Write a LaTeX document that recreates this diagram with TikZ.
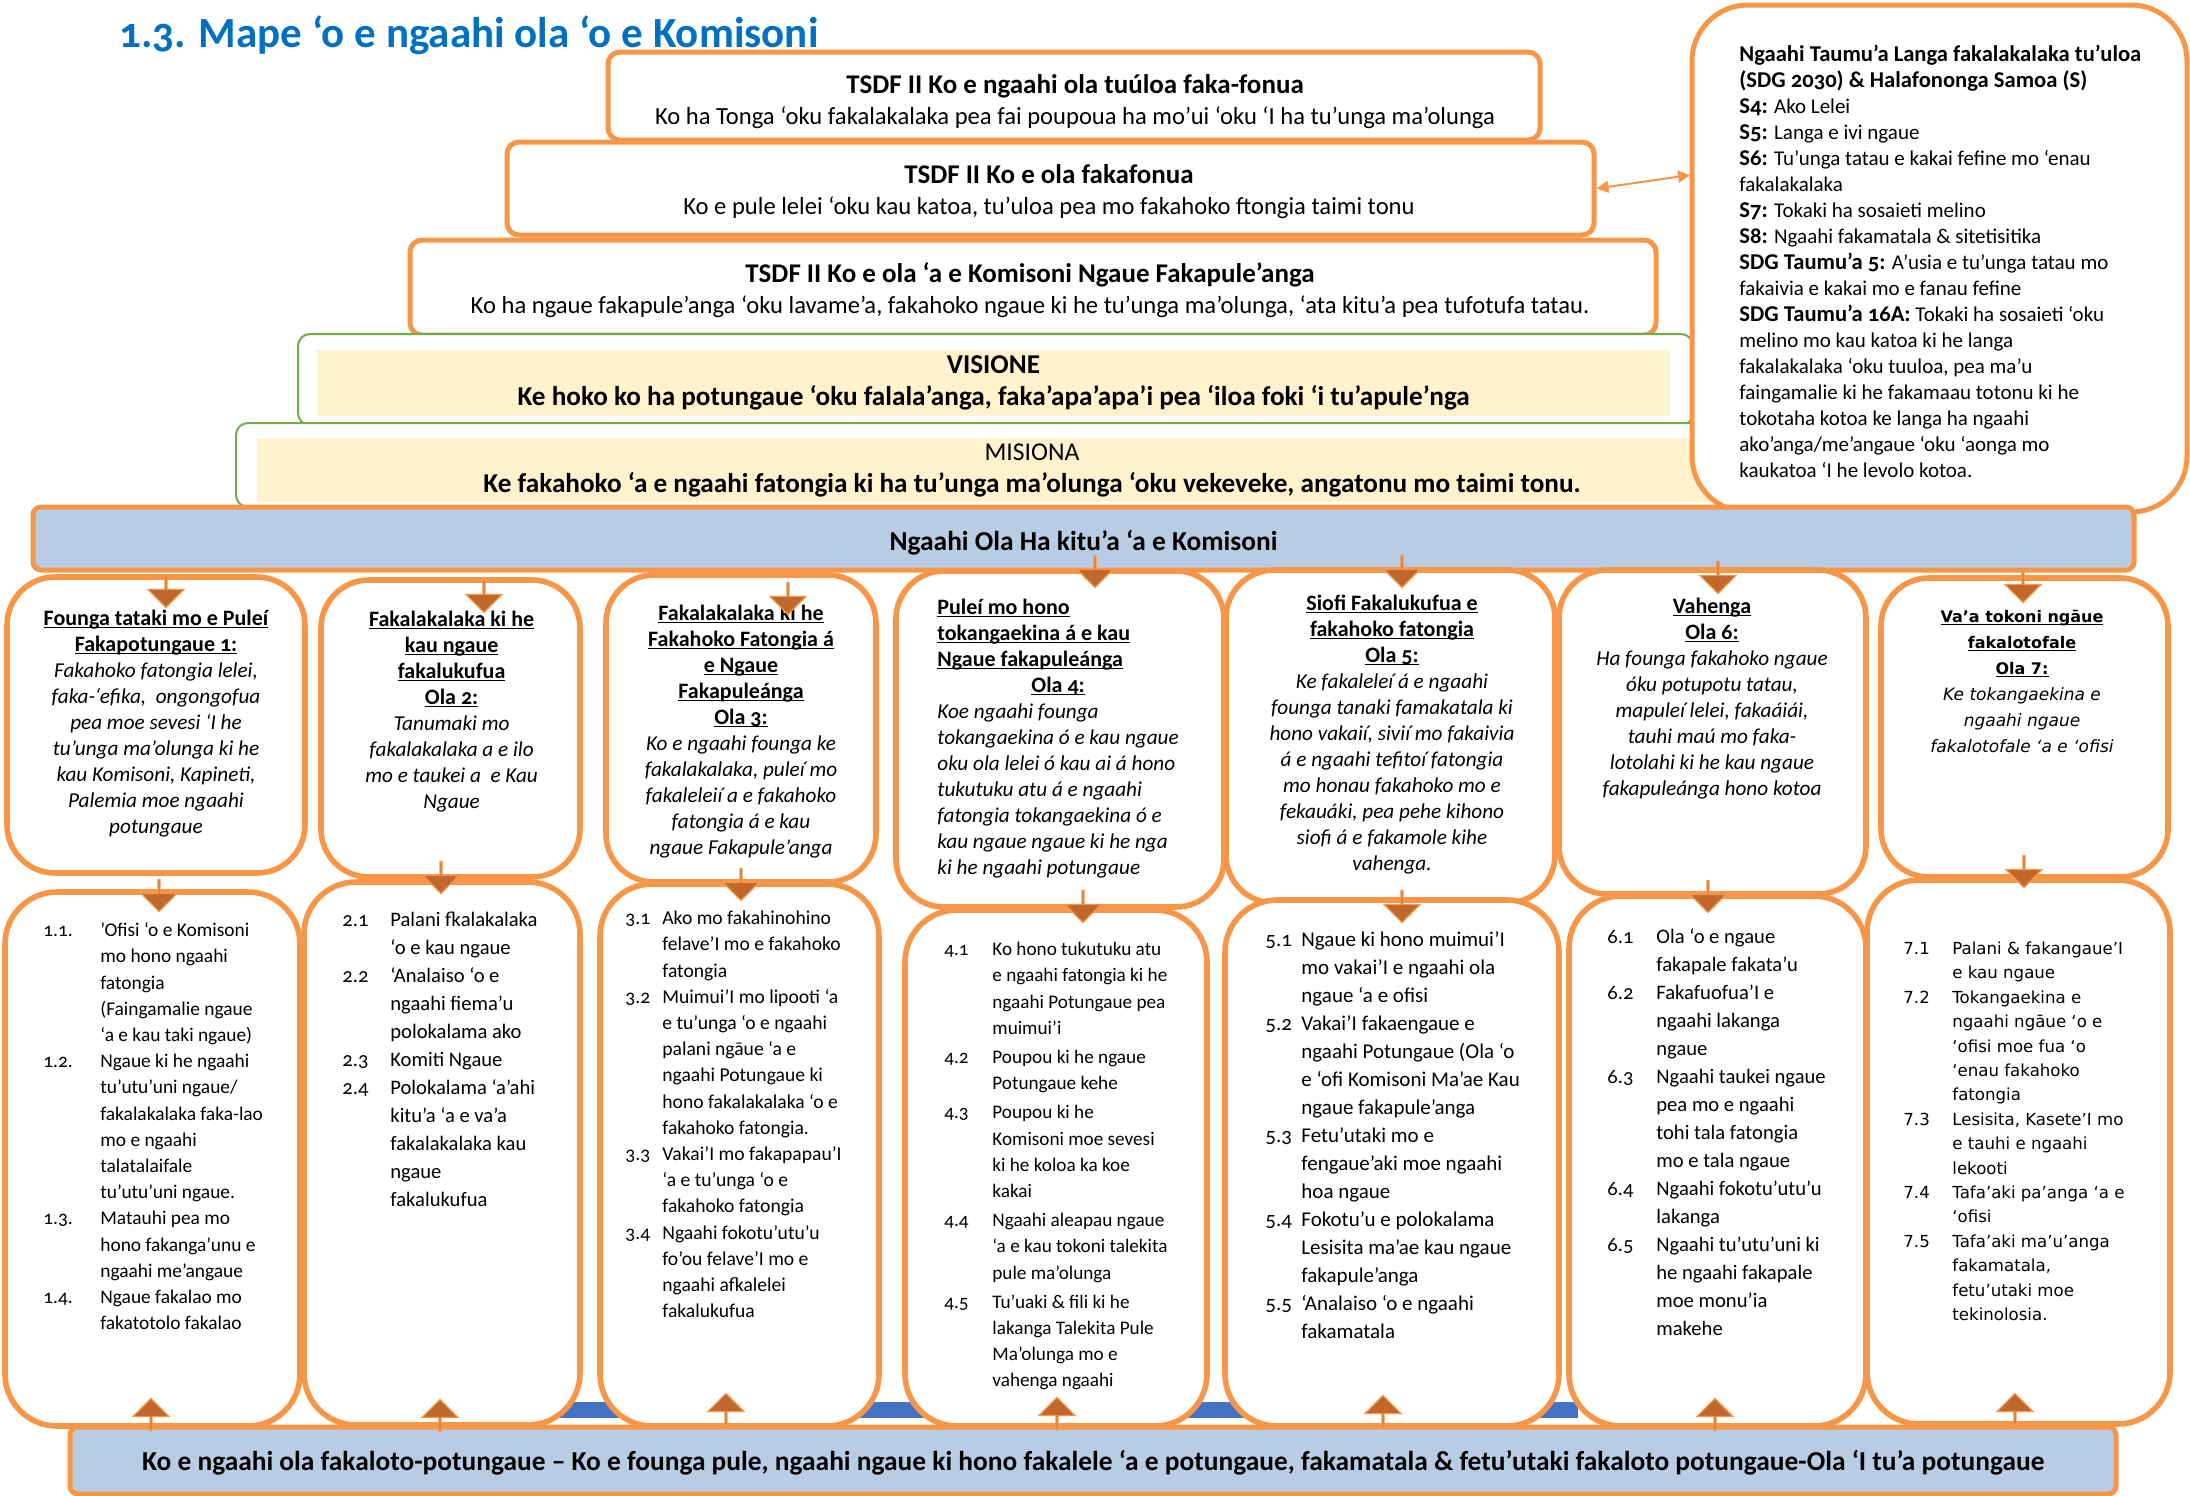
\documentclass[tikz,border=0pt]{standalone}
\usepackage{fontspec}
\setmainfont{Carlito}[Numbers=OldStyle]
\newfontfamily\verdanafont{DejaVu Sans}
\usetikzlibrary{shapes.arrows,arrows.meta}
\definecolor{olaorange}{RGB}{247,150,70}
\definecolor{olagreen}{RGB}{112,173,71}
\definecolor{olayellow}{RGB}{255,242,204}
\definecolor{olablue}{RGB}{184,204,228}
\definecolor{olastrip}{RGB}{68,114,196}
\definecolor{olabrown}{RGB}{192,104,44}
\definecolor{olatitle}{RGB}{0,112,192}
\newcommand{\olaul}[1]{\setbox0=\hbox{#1}\rlap{\rule[-1.4pt]{\wd0}{0.55pt}}\box0}
\newcommand{\sdgb}[1]{{\bfseries\fontsize{11.3}{13}\selectfont #1}}
\tikzstyle{tsdfbox} = [draw=olaorange, fill=white, line width=2.5pt,
    rectangle, rounded corners=6pt, inner sep=0pt]
\tikzstyle{tsdftext} = [inner sep=0pt, align=center, font=\fontsize{12.3}{15.5}\selectfont]
\tikzstyle{visframe} = [draw=olagreen, fill=white, line width=1pt, rectangle, rounded corners=6pt]
\tikzstyle{visfill} = [fill=olayellow, rectangle, inner sep=0pt, align=center,
    font=\fontsize{13.6}{16}\selectfont]
\tikzstyle{sdgbox} = [draw=olaorange, fill=white, line width=2.5pt, rectangle, rounded corners=28pt]
\tikzstyle{bandbox} = [draw=olaorange, fill=olablue, line width=2.5pt, rectangle,
    rounded corners=4pt, font=\bfseries\fontsize{13.7}{15}\selectfont]
\tikzstyle{colbox} = [draw=olaorange, fill=white, line width=2.8pt, rectangle, rounded corners=24pt]
\tikzstyle{listbox} = [colbox, rounded corners=26pt]
\tikzstyle{coltext} = [inner sep=0pt, anchor=north, font=\fontsize{10.6}{13}\selectfont]
\tikzstyle{listtext} = [inner sep=0pt, anchor=north west, font=\fontsize{9.7}{13.1}\selectfont]
\tikzstyle{widelist} = [listtext, font=\fontsize{10.3}{14}\selectfont]
\tikzstyle{downarrow} = [single arrow, shape border rotate=270, fill=olabrown, draw=olaorange,
    line width=0.6pt, minimum width=18pt, minimum height=16pt, single arrow head extend=5.5pt, inner sep=0pt]
\tikzstyle{uparrow} = [downarrow, shape border rotate=90]

\begin{document}
\begin{tikzpicture}[x=0.5pt, y=-0.5pt]
\useasboundingbox (0,0) rectangle (2190,1495);

\node[anchor=base west, inner sep=0pt, text=olatitle, font=\bfseries\fontsize{21.5}{24}\selectfont]
    (maptitle) at (119,47) {1.3. Mape ‘o e ngaahi ola ‘o e Komisoni};

\node[tsdfbox, minimum width=466pt, minimum height=44pt] (tsdfa) at (1074,96) {};
\node[tsdftext] (tsdfatext) at (1075,101.5)
    {\textbf{\fontsize{13.5}{15.5}\selectfont TSDF II Ko e ngaahi ola tuúloa faka-fonua}\\
     Ko ha Tonga ‘oku fakalakalaka pea fai poupoua ha mo’ui ‘oku ‘I ha tu’unga ma’olunga};
\node[tsdfbox, minimum width=543.5pt, minimum height=46.5pt] (tsdfb) at (1050.5,188.5) {};
\node[tsdftext] (tsdfbtext) at (1049,192)
    {\textbf{\fontsize{13.5}{15.5}\selectfont TSDF II Ko e ola fakafonua}\\
     Ko e pule lelei ‘oku kau katoa, tu’uloa pea mo fakahoko ftongia taimi tonu};
\node[tsdfbox, minimum width=623pt, minimum height=47.5pt] (tsdfc) at (1033,287.5) {};
\node[tsdftext] (tsdfctext) at (1030,290)
    {\textbf{\fontsize{13.5}{15.5}\selectfont TSDF II Ko e ola ‘a e Komisoni Ngaue Fakapule’anga}\\
     Ko ha ngaue fakapule’anga ‘oku lavame’a, fakahoko ngaue ki he tu’unga ma’olunga, ‘ata kitu’a pea tufotufa tatau.};

\node[visframe, minimum width=697.5pt, minimum height=45.5pt] (visionframe) at (995.5,379.5) {};
\node[visfill, minimum width=676.5pt, minimum height=33pt] (vision) at (993.5,383)
    {\textbf{VISIONE}\\
     \textbf{Ke hoko ko ha potungaue ‘oku falala’anga, faka’apa’apa’i pea ‘iloa foki ‘i tu’apule’nga}};
\node[visframe, minimum width=797pt, minimum height=42pt] (missionframe) at (1033,465) {};
\node[visfill, minimum width=775pt, minimum height=32pt] (mission) at (1032,470)
    {{\fontsize{12.8}{16}\selectfont MISIONA}\\
     \textbf{Ke fakahoko ‘a e ngaahi fatongia ki ha tu’unga ma’olunga ‘oku vekeveke, angatonu mo taimi tonu.}};

\node[sdgbox, minimum width=247.5pt, minimum height=253.5pt] (sdg) at (1939.5,258.5) {};
\node[inner sep=0pt, anchor=north west, font=\fontsize{10.5}{13}\selectfont] (sdgtext) at (1739,43)
    {\begin{tabular}{@{}l@{}}
     \sdgb{Ngaahi Taumu’a Langa fakalakalaka tu’uloa}\\
     \sdgb{(SDG 2030) \& Halafononga Samoa (S)}\\
     \sdgb{S4:} Ako Lelei\\
     \sdgb{S5:} Langa e ivi ngaue\\
     \sdgb{S6:} Tu’unga tatau e kakai fefine mo ‘enau\\
     fakalakalaka\\
     \sdgb{S7:} Tokaki ha sosaieti melino\\
     \sdgb{S8:} Ngaahi fakamatala \& sitetisitika\\
     \sdgb{SDG Taumu’a 5:} A’usia e tu’unga tatau mo\\
     fakaivia e kakai mo e fanau fefine\\
     \sdgb{SDG Taumu’a 16A:} Tokaki ha sosaieti ‘oku\\
     melino mo kau katoa ki he langa\\
     fakalakalaka ‘oku tuuloa, pea ma’u\\
     faingamalie ki he fakamaau totonu ki he\\
     tokotaha kotoa ke langa ha ngaahi\\
     ako’anga/me’angaue ‘oku ‘aonga mo\\
     kaukatoa ‘I he levolo kotoa.
     \end{tabular}};
\coordinate (sdgin) at (1690,175);
\draw[olaorange, line width=1pt, {Triangle[length=6pt,width=6pt]}-{Triangle[length=6pt,width=6pt]}]
    (tsdfb.east) -- (sdgin);

\node[bandbox, minimum width=1050.5pt, minimum height=31.5pt] (outcomes) at (1083.5,538.5)
    {\raisebox{-2pt}[\height][\depth]{Ngaahi Ola Ha kitu’a ‘a e Komisoni}};

\node[colbox, minimum width=149pt, minimum height=148pt] (olaone) at (156,725) {};
\node[colbox, minimum width=129.5pt, minimum height=148.5pt] (olatwo) at (450.5,728.5) {};
\node[colbox, minimum width=135pt, minimum height=153.5pt] (olathree) at (741,728.5) {};
\node[colbox, minimum width=164pt, minimum height=168pt] (olafour) at (1060,739) {};
\node[colbox, minimum width=164.5pt, minimum height=166.5pt] (olafive) at (1390.5,736.5) {};
\node[colbox, minimum width=153.5pt, minimum height=162pt] (olasix) at (1712.5,732) {};
\node[colbox, minimum width=143.5pt, minimum height=149.5pt] (olaseven) at (2024.5,727.5) {};

\node[coltext] (olaonetext) at (156,607)
    {\begin{tabular}{@{}c@{}}
     \bfseries\fontsize{11}{13}\selectfont\olaul{Founga tataki mo e Puleí}\\
     \bfseries\fontsize{11}{13}\selectfont\olaul{Fakapotungaue 1:}\\
     \itshape Fakahoko fatongia lelei,\\
     \itshape faka-‘efika,\ \ ongongofua\\
     \itshape pea moe sevesi ‘I he\\
     \itshape tu’unga ma’olunga ki he\\
     \itshape kau Komisoni, Kapineti,\\
     \itshape Palemia moe ngaahi\\
     \itshape potungaue
     \end{tabular}};
\node[coltext] (olatwotext) at (451.6,608)
    {\begin{tabular}{@{}c@{}}
     \bfseries\fontsize{11}{13}\selectfont\olaul{Fakalakalaka ki he}\\
     \bfseries\fontsize{11}{13}\selectfont\olaul{kau ngaue}\\
     \bfseries\fontsize{11}{13}\selectfont\olaul{fakalukufua}\\
     \bfseries\fontsize{11}{13}\selectfont\olaul{Ola 2:}\\
     \itshape Tanumaki mo\\
     \itshape fakalakalaka a e ilo\\
     \itshape mo e taukei a\ \ e Kau\\
     \itshape Ngaue
     \end{tabular}};
\node[coltext] (olathreetext) at (741,602)
    {\begin{tabular}{@{}c@{}}
     \bfseries\fontsize{11}{13}\selectfont\olaul{Fakalakalaka ki he}\\
     \bfseries\fontsize{11}{13}\selectfont\olaul{Fakahoko Fatongia á}\\
     \bfseries\fontsize{11}{13}\selectfont\olaul{e Ngaue}\\
     \bfseries\fontsize{11}{13}\selectfont\olaul{Fakapuleánga}\\
     \bfseries\fontsize{11}{13}\selectfont\olaul{Ola 3:}\\
     \itshape Ko e ngaahi founga ke\\
     \itshape fakalakalaka, puleí mo\\
     \itshape fakaleleií a e fakahoko\\
     \itshape fatongia á e kau\\
     \itshape ngaue Fakapule’anga
     \end{tabular}};
\node[coltext, anchor=north west] (olafourtext) at (937,596)
    {\begin{tabular}{@{}l@{}}
     \bfseries\fontsize{11}{13}\selectfont\olaul{Puleí mo hono}\\
     \bfseries\fontsize{11}{13}\selectfont\olaul{tokangaekina á e kau}\\
     \bfseries\fontsize{11}{13}\selectfont\olaul{Ngaue fakapuleánga}\\
     \multicolumn{1}{@{}c@{}}{\bfseries\fontsize{11}{13}\selectfont\olaul{Ola 4:}}\\
     \itshape Koe ngaahi founga\\
     \itshape tokangaekina ó e kau ngaue\\
     \itshape oku ola lelei ó kau ai á hono\\
     \itshape tukutuku atu á e ngaahi\\
     \itshape fatongia tokangaekina ó e\\
     \itshape kau ngaue ngaue ki he nga\\
     \itshape ki he ngaahi potungaue
     \end{tabular}};
\node[coltext] (olafivetext) at (1392,592)
    {\begin{tabular}{@{}c@{}}
     \bfseries\fontsize{11}{13}\selectfont\olaul{Siofi Fakalukufua e}\\
     \bfseries\fontsize{11}{13}\selectfont\olaul{fakahoko fatongia}\\
     \bfseries\fontsize{11}{13}\selectfont\olaul{Ola 5:}\\
     \itshape Ke fakaleleí á e ngaahi\\
     \itshape founga tanaki famakatala ki\\
     \itshape hono vakaií, sivií mo fakaivia\\
     \itshape á e ngaahi tefitoí fatongia\\
     \itshape mo honau fakahoko mo e\\
     \itshape fekauáki, pea pehe kihono\\
     \itshape siofi á e fakamole kihe\\
     \itshape vahenga.
     \end{tabular}};
\node[coltext] (olasixtext) at (1712,595)
    {\begin{tabular}{@{}c@{}}
     \bfseries\fontsize{11}{13}\selectfont\olaul{Vahenga}\\
     \bfseries\fontsize{11}{13}\selectfont\olaul{Ola 6:}\\
     \itshape Ha founga fakahoko ngaue\\
     \itshape óku potupotu tatau,\\
     \itshape mapuleí lelei, fakaáiái,\\
     \itshape tauhi maú mo faka-\\
     \itshape lotolahi ki he kau ngaue\\
     \itshape fakapuleánga hono kotoa
     \end{tabular}};
\node[coltext, font=\verdanafont\fontsize{8}{13}\selectfont] (olaseventext) at (2022,604)
    {\begin{tabular}{@{}c@{}}
     \bfseries\olaul{Va’a tokoni ngāue}\\
     \bfseries\olaul{fakalotofale}\\
     \bfseries\olaul{Ola 7:}\\
     \itshape\fontsize{8.5}{13}\selectfont Ke tokangaekina e\\
     \itshape\fontsize{8.5}{13}\selectfont ngaahi ngaue\\
     \itshape\fontsize{8.5}{13}\selectfont fakalotofale ‘a e ‘ofisi
     \end{tabular}};

\node[fill=olastrip, rectangle, inner sep=0pt, minimum width=509pt, minimum height=8pt] (strip) at (1069,1410) {};

\node[listbox, minimum width=147.5pt, minimum height=267pt] (listone) at (152.5,1159) {};
\node[listbox, minimum width=138pt, minimum height=271.5pt] (listtwo) at (442,1153.5) {};
\node[listbox, minimum width=139.5pt, minimum height=271pt] (listthree) at (739.5,1155) {};
\node[listbox, minimum width=151pt, minimum height=258pt] (listfour) at (1056,1168) {};
\node[listbox, minimum width=167pt, minimum height=263pt] (listfive) at (1392,1163) {};
\node[listbox, minimum width=148.5pt, minimum height=265pt] (listsix) at (1717.5,1161) {};
\node[listbox, minimum width=151.5pt, minimum height=272pt] (listseven) at (2018.5,1152) {};

\node[listtext] (listonetext) at (43,918)
    {\begin{tabular}{@{}p{28.5pt}@{}l@{}}
     1.1. & ’Ofisi ‘o e Komisoni\\
          & mo hono ngaahi\\
          & fatongia\\
          & (Faingamalie ngaue\\
          & ‘a e kau taki ngaue)\\
     1.2. & Ngaue ki he ngaahi\\
          & tu’utu’uni ngaue/\\
          & fakalakalaka faka-lao\\
          & mo e ngaahi\\
          & talatalaifale\\
          & tu’utu’uni ngaue.\\
     1.3. & Matauhi pea mo\\
          & hono fakanga’unu e\\
          & ngaahi me’angaue\\
     1.4. & Ngaue fakalao mo\\
          & fakatotolo fakalao
     \end{tabular}};
\node[widelist] (listtwotext) at (342,906)
    {\begin{tabular}{@{}p{24pt}@{}l@{}}
     2.1 & Palani fkalakalaka\\
         & ‘o e kau ngaue\\
     2.2 & ‘Analaiso ‘o e\\
         & ngaahi fiema’u\\
         & polokalama ako\\
     2.3 & Komiti Ngaue\\
     2.4 & Polokalama ‘a’ahi\\
         & kitu’a ‘a e va’a\\
         & fakalakalaka kau\\
         & ngaue\\
         & fakalukufua
     \end{tabular}};
\node[listtext, font=\fontsize{9.8}{13.1}\selectfont] (listthreetext) at (625,906)
    {\begin{tabular}{@{}p{18.5pt}@{}l@{}}
     3.1 & Ako mo fakahinohino\\
         & felave’I mo e fakahoko\\
         & fatongia\\
     3.2 & Muimui’I mo lipooti ‘a\\
         & e tu’unga ‘o e ngaahi\\
         & palani ngāue ‘a e\\
         & ngaahi Potungaue ki\\
         & hono fakalakalaka ‘o e\\
         & fakahoko fatongia.\\
     3.3 & Vakai’I mo fakapapau’I\\
         & ‘a e tu’unga ‘o e\\
         & fakahoko fatongia\\
     3.4 & Ngaahi fokotu’utu’u\\
         & fo’ou felave’I mo e\\
         & ngaahi afkalelei\\
         & fakalukufua
     \end{tabular}};
\node[listtext, font=\fontsize{9.6}{13.1}\selectfont] (listfourtext) at (944,937)
    {\begin{tabular}{@{}p{24pt}@{}l@{}}
     4.1 & Ko hono tukutuku atu\\
         & e ngaahi fatongia ki he\\
         & ngaahi Potungaue pea\\
         & muimui’i\\[1.5pt]
     4.2 & Poupou ki he ngaue\\
         & Potungaue kehe\\[1.5pt]
     4.3 & Poupou ki he\\
         & Komisoni moe sevesi\\
         & ki he koloa ka koe\\
         & kakai\\[1.5pt]
     4.4 & Ngaahi aleapau ngaue\\
         & ‘a e kau tokoni talekita\\
         & pule ma’olunga\\[1.5pt]
     4.5 & Tu’uaki \& fili ki he\\
         & lakanga Talekita Pule\\
         & Ma’olunga mo e\\
         & vahenga ngaahi
     \end{tabular}};
\node[widelist, font=\fontsize{10.5}{14}\selectfont] (listfivetext) at (1265,926)
    {\begin{tabular}{@{}p{18pt}@{}l@{}}
     5.1 & Ngaue ki hono muimui’I\\
         & mo vakai’I e ngaahi ola\\
         & ngaue ‘a e ofisi\\
     5.2 & Vakai’I fakaengaue e\\
         & ngaahi Potungaue (Ola ‘o\\
         & e ‘ofi Komisoni Ma’ae Kau\\
         & ngaue fakapule’anga\\
     5.3 & Fetu’utaki mo e\\
         & fengaue’aki moe ngaahi\\
         & hoa ngaue\\
     5.4 & Fokotu’u e polokalama\\
         & Lesisita ma’ae kau ngaue\\
         & fakapule’anga\\
     5.5 & ‘Analaiso ‘o e ngaahi\\
         & fakamatala
     \end{tabular}};
\node[widelist] (listsixtext) at (1607,923)
    {\begin{tabular}{@{}p{24.5pt}@{}l@{}}
     6.1 & Ola ‘o e ngaue\\
         & fakapale fakata’u\\
     6.2 & Fakafuofua’I e\\
         & ngaahi lakanga\\
         & ngaue\\
     6.3 & Ngaahi taukei ngaue\\
         & pea mo e ngaahi\\
         & tohi tala fatongia\\
         & mo e tala ngaue\\
     6.4 & Ngaahi fokotu’utu’u\\
         & lakanga\\
     6.5 & Ngaahi tu’utu’uni ki\\
         & he ngaahi fakapale\\
         & moe monu’ia\\
         & makehe
     \end{tabular}};
\node[listtext, font=\verdanafont\fontsize{8.3}{12.2}\selectfont] (listseventext) at (1903,937)
    {\begin{tabular}{@{}p{24.5pt}@{}l@{}}
     7.1 & Palani \& fakangaue’I\\
         & e kau ngaue\\
     7.2 & Tokangaekina e\\
         & ngaahi ngāue ‘o e\\
         & ‘ofisi moe fua ‘o\\
         & ‘enau fakahoko\\
         & fatongia\\
     7.3 & Lesisita, Kasete’I mo\\
         & e tauhi e ngaahi\\
         & lekooti\\
     7.4 & Tafa’aki pa’anga ‘a e\\
         & ‘ofisi\\
     7.5 & Tafa’aki ma’u’anga\\
         & fakamatala,\\
         & fetu’utaki moe\\
         & tekinolosia.
     \end{tabular}};

\node[bandbox, minimum width=1023pt, minimum height=33.5pt] (internal) at (1093,1460.5)
    {\raisebox{-1pt}[\height][\depth]{Ko e ngaahi ola fakaloto-potungaue – Ko e founga pule, ngaahi ngaue ki hono fakalele ‘a e potungaue, fakamatala \& fetu’utaki fakaloto potungaue-Ola ‘I tu’a potungaue}};

\node[downarrow] (downone) at (166,591) {};
\node[downarrow] (downtwo) at (484,596) {};
\node[downarrow] (downthree) at (788,598) {};
\node[downarrow] (downfour) at (1095,571) {};
\node[downarrow] (downfive) at (1402,571) {};
\node[downarrow] (downsix) at (1718,577) {};
\node[downarrow] (downseven) at (2023,586) {};

\node[downarrow] (listdownone) at (159,895) {};
\node[downarrow] (listdowntwo) at (441,877) {};
\node[downarrow] (listdownthree) at (741,884) {};
\node[downarrow] (listdownfour) at (1083,906) {};
\node[downarrow] (listdownfive) at (1402,906) {};
\node[downarrow] (listdownsix) at (1708,896) {};
\node[downarrow] (listdownseven) at (2024,871) {};

\node[uparrow] (upone) at (151,1415) {};
\node[uparrow] (uptwo) at (440,1416) {};
\node[uparrow] (upthree) at (726,1410) {};
\node[uparrow] (upfour) at (1057,1414) {};
\node[uparrow] (upfive) at (1383,1412) {};
\node[uparrow] (upsix) at (1715,1415) {};
\node[uparrow] (upseven) at (2015,1410) {};
\end{tikzpicture}
\end{document}
